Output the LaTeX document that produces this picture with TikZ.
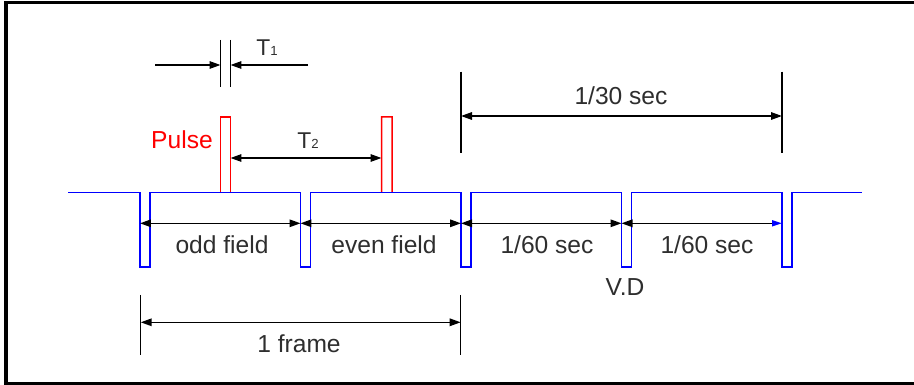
\documentclass[tikz,border=0pt]{standalone}
\usepackage{fontspec}
\setmainfont{Liberation Sans}
\usetikzlibrary{arrows.meta}
\definecolor{txt}{HTML}{2E2E2E}
\begin{document}
\begin{tikzpicture}[x=0.02cm,y=-0.02cm,
  sig/.style={blue, line width=0.03cm},
  pul/.style={red, line width=0.03cm},
  dimline/.style={black, line width=0.03cm},
  tip/.style={Triangle[length=0.22cm,width=0.15cm]},
  dimarr/.style={dimline, {Triangle[length=0.22cm,width=0.15cm]}-{Triangle[length=0.22cm,width=0.15cm]}},
  onearr/.style={dimline, -{Triangle[length=0.22cm,width=0.15cm]}},
  lbl/.style={text=txt, font=\fontsize{14}{16}\selectfont, inner sep=0pt, anchor=base},
  tlbl/.style={text=txt, font=\fontsize{13}{15}\selectfont, inner sep=0pt, anchor=base}]
\clip (0,0) rectangle (914,385);
% frame
\draw[line width=0.07cm] (6,2.5) rectangle (960,383.5);

% key coordinates of the V.D signal
\coordinate (s0) at (68,192.5);
\coordinate (d1) at (140,192.5);
\coordinate (d2) at (300.5,192.5);
\coordinate (d3) at (461,192.5);
\coordinate (d4) at (621.5,192.5);
\coordinate (d5) at (782,192.5);
\coordinate (s1) at (862,192.5);

% pulses
\coordinate (p1a) at (220.5,192.5);
\coordinate (p1b) at (230.5,192.5);
\coordinate (p2a) at (381.5,192.5);
\coordinate (p2b) at (392,192.5);
\draw[pul] (p1a) -- ++(0,-75.5) -- ++(10,0) -- (p1b);
\draw[pul] (p2a) -- ++(0,-75.5) -- ++(10.5,0) -- (p2b);

% signal
\draw[sig] (s0) -- (d1) -- ++(0,74.5) -- ++(10,0) -- ++(0,-74.5)
  -- (d2) -- ++(0,74.5) -- ++(10,0) -- ++(0,-74.5)
  -- (d3) -- ++(0,74.5) -- ++(10,0) -- ++(0,-74.5)
  -- (d4) -- ++(0,74.5) -- ++(10,0) -- ++(0,-74.5)
  -- (d5) -- ++(0,74.5) -- ++(10,0) -- ++(0,-74.5) -- (s1);

% T1
\coordinate (t1a) at (220.5,40);
\coordinate (t1b) at (230.5,40);
\coordinate (t1c) at (220.5,87);
\coordinate (t1d) at (230.5,87);
\draw[dimline] (t1a) -- (t1c);
\draw[dimline] (t1b) -- (t1d);
\coordinate (t1l) at (155,65);
\coordinate (t1li) at (220.5,65);
\coordinate (t1r) at (308,65);
\coordinate (t1ri) at (230.5,65);
\draw[onearr] (t1l) -- (t1li);
\draw[onearr] (t1r) -- (t1ri);
\node[tlbl] (T1) at (267,55.7) {T{\fontsize{7.5}{8}\selectfont 1}};

% T2
\coordinate (t2l) at (230.5,158);
\coordinate (t2r) at (381.5,158);
\draw[dimarr] (t2l) -- (t2r);
\node[tlbl] (T2) at (308,148.3) {T{\fontsize{7.5}{8}\selectfont 2}};
\node[lbl, text=red] (pulse) at (182,148.3) {Pulse};

% field arrows
\coordinate (f0) at (140,223.3);
\coordinate (f1) at (300.5,223.3);
\coordinate (f2) at (461,223.3);
\coordinate (f3) at (621.5,223.3);
\coordinate (f4) at (782,223.3);
\draw[dimarr] (f0) -- (f1);
\draw[dimarr] (f1) -- (f2);
\draw[dimarr] (f2) -- (f3);
\draw[dimline, {Triangle[length=0.22cm,width=0.15cm]}-{Triangle[length=0.2cm,width=0.12cm,color=blue]}] (f3) -- (f4);
\node[lbl] (odd) at (222,254) {odd field};
\node[lbl] (even) at (384,254) {even field};
\node[lbl] (s60a) at (547,254) {1/60 sec};
\node[lbl] (s60b) at (707,254) {1/60 sec};
\node[lbl] (vd) at (625,296) {V.D};

% 1/30 sec
\coordinate (a1) at (461,71.7);
\coordinate (a2) at (461,152.7);
\coordinate (a3) at (782,71.7);
\coordinate (a4) at (782,152.7);
\draw[dimline] (a1) -- (a2);
\draw[dimline] (a3) -- (a4);
\coordinate (a5) at (461,116);
\coordinate (a6) at (782,116);
\draw[dimarr] (a5) -- (a6);
\node[lbl] (s30) at (621,104.3) {1/30 sec};

% 1 frame
\coordinate (b1) at (140.7,295);
\coordinate (b2) at (140.7,355);
\coordinate (b3) at (460.7,295);
\coordinate (b4) at (460.7,355);
\draw[dimline] (b1) -- (b2);
\draw[dimline] (b3) -- (b4);
\coordinate (b5) at (140.7,322.3);
\coordinate (b6) at (460.7,322.3);
\draw[dimarr] (b5) -- (b6);
\node[lbl] (frame) at (299,352.7) {1 frame};
\end{tikzpicture}
\end{document}
